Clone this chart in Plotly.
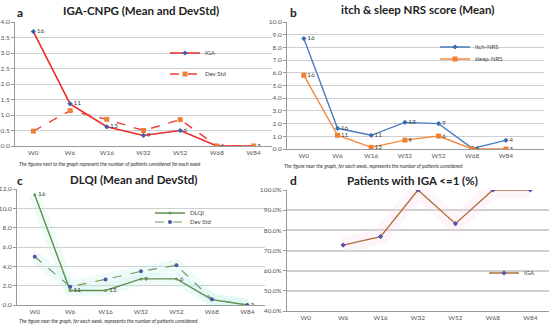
import plotly.graph_objects as go

weeks = ["W0", "W6", "W16", "W32", "W52", "W68", "W84"]

# Panel a: IGA-CNPG
iga_mean = [3.69, 1.36, 0.62, 0.34, 0.50, 0.0, 0.0]
iga_std = [0.48, 1.14, 0.86, 0.50, 0.85, 0.0, 0.0]
iga_n = ["16", "11", "13", "9", "6", "4", "3"]

# Panel b: itch & sleep NRS
itch_nrs = [8.7, 1.63, 1.08, 2.1, 2.0, 0.05, 0.68]
sleep_nrs = [5.8, 1.08, 0.13, 0.7, 1.02, 0.0, 0.0]
itch_n = ["16", "16", "11", "13", "9", "4", "4"]
sleep_n = ["16", "11", "13", "9", "6", "", "3"]

# Panel c: DLQI
dlqi_mean = [11.4, 1.5, 1.5, 2.7, 2.7, 0.55, 0.0]
dlqi_std = [5.0, 1.9, 2.65, 3.48, 4.1, 0.6, 0.0]
dlqi_n = ["16", "11", "13", "9", "6", "", "3"]

# Panel d: patients with IGA <= 1 (%)
d_weeks = ["W6", "W16", "W32", "W52", "W68", "W84"]
iga_le1 = [72.7, 76.9, 100.0, 83.3, 100.0, 100.0]

W, H = 550, 330
def px(x): return x / W
def py(y): return 1 - y / H

FONT = "Lato"
TICKF = dict(family=FONT, size=6.5, color="#555")
LBLF = dict(family=FONT, size=6.5, color="#444")

fig = go.Figure()

def line(x, y, name, ax, lg, lcolor, lw, dash, msym, msize, mcolor):
    fig.add_trace(go.Scatter(x=x, y=y, mode="lines+markers", name=name,
        line=dict(color=lcolor, width=lw, dash=dash),
        marker=dict(symbol=msym, size=msize, color=mcolor),
        xaxis="x" + ax, yaxis="y" + ax, legend=lg))

def labels(x, y, txt, ax):
    fig.add_trace(go.Scatter(x=x, y=y, mode="text", text=["  " + t if t else "" for t in txt],
        textposition="middle right", textfont=LBLF, showlegend=False, hoverinfo="skip",
        xaxis="x" + ax, yaxis="y" + ax))

def glow(x, y, ax, color, w):
    fig.add_trace(go.Scatter(x=x, y=y, mode="lines", showlegend=False, hoverinfo="skip",
        line=dict(color=color, width=w), xaxis="x" + ax, yaxis="y" + ax))

# ---- panel a
line(weeks, iga_mean, "IGA", "", "legend", "#ee2a2a", 1.6, "solid", "diamond", 4, "#3b5fb0")
line(weeks, iga_std, "Dev Std", "", "legend2", "#ee3a3a", 1.4, "dash", "square", 5, "#f08038")
labels(weeks, iga_mean, iga_n, "")

# ---- panel b
line(weeks, itch_nrs, "itch-NRS", "2", "legend3", "#4a7dc0", 1.4, "solid", "diamond", 4, "#3a6bb0")
line(weeks, sleep_nrs, "sleep-NRS", "2", "legend4", "#f28a40", 1.4, "solid", "square", 5, "#f07f30")
labels(weeks, itch_nrs, itch_n, "2")
labels(weeks, sleep_nrs, sleep_n, "2")

# ---- panel c
glow(weeks, dlqi_mean, "3", "rgba(180,238,228,0.22)", 12)
glow(weeks, dlqi_std, "3", "rgba(180,238,228,0.22)", 12)
line(weeks, dlqi_mean, "DLQI", "3", "legend5", "#5f8f4e", 1.4, "solid", "circle", 3, "#6a9a58")
line(weeks, dlqi_std, "Dev Std", "3", "legend6", "#6f9a60", 1.2, "dash", "circle", 4, "#4a55a8")
labels(weeks, dlqi_mean, dlqi_n, "3")

# ---- panel d
glow(d_weeks, iga_le1, "4", "rgba(248,215,232,0.25)", 16)
line(d_weeks, iga_le1, "IGA", "4", "legend7", "#b0703a", 1.4, "solid", "diamond", 4, "#5a4fb8")

common_x = dict(type="category", categoryorder="array", categoryarray=weeks,
                showgrid=False, showline=True, linecolor="#999", linewidth=1,
                ticks="", tickfont=TICKF, fixedrange=True, automargin=False)
common_y = dict(showgrid=True, gridcolor="#cfcfcf", gridwidth=1, showline=True,
                linecolor="#999", linewidth=1, ticks="outside", ticklen=3, tickcolor="#999",
                tickfont=TICKF, zeroline=False, fixedrange=True, automargin=False)

def lgd(xtext, ymid):
    return dict(x=px(xtext - 40), y=py(ymid), xanchor="left", yanchor="middle",
                font=dict(family=FONT, size=6, color="#444"), bgcolor="rgba(0,0,0,0)",
                borderwidth=0, itemwidth=30, tracegroupgap=0)

fig.update_layout(
    width=W, height=H, margin=dict(l=0, r=0, t=0, b=0, pad=0, autoexpand=False),
    paper_bgcolor="white", plot_bgcolor="white",
    font=dict(family=FONT), showlegend=True,
    xaxis=dict(common_x, domain=[px(15), px(272)], range=[-0.5, 6.5], anchor="y"),
    yaxis=dict(common_y, domain=[py(146), py(22)], range=[0, 4], dtick=0.5, tickformat=".1f", anchor="x"),
    xaxis2=dict(common_x, domain=[px(287), px(544)], range=[-0.5, 7.13], anchor="y2"),
    yaxis2=dict(common_y, domain=[py(149), py(22)], range=[0, 10], dtick=1, tickformat=".1f", anchor="x2"),
    xaxis3=dict(common_x, domain=[px(17), px(265)], range=[-0.5, 6.5], anchor="y3"),
    yaxis3=dict(common_y, domain=[py(305), py(189)], range=[0, 12], dtick=2, tickformat=".1f", anchor="x3"),
    xaxis4=dict(common_x, domain=[px(287), px(549)], range=[-0.5, 6.5], anchor="y4"),
    yaxis4=dict(common_y, domain=[py(311), py(190)], range=[40, 100], dtick=10, tickformat=".1f",
                ticksuffix="%", anchor="x4", gridwidth=1.5),
    legend=lgd(205, 53),
    legend2=lgd(205, 74),
    legend3=lgd(475, 47),
    legend4=lgd(475, 59),
    legend5=lgd(190, 213),
    legend6=lgd(190, 222),
    legend7=lgd(524, 273),
)

titles = [
    ("a", 20, 12, "IGA-CNPG (Mean and DevStd)", 141, 11),
    ("b", 293, 12, "itch & sleep NRS score (Mean)", 417, 10),
    ("c", 20, 180, "DLQI (Mean and DevStd)", 133, 179),
    ("d", 293, 180, "Patients with IGA <=1 (%)", 412, 180),
]
for letter, lx, ly, t, tx, ty in titles:
    fig.add_annotation(text=f"<b>{letter}</b>", x=px(lx), y=py(ly), xref="paper", yref="paper",
                       showarrow=False, xanchor="center", yanchor="middle",
                       font=dict(family=FONT, size=12, color="#222"))
    fig.add_annotation(text=f"<b>{t}</b>", x=px(tx), y=py(ty), xref="paper", yref="paper",
                       showarrow=False, xanchor="center", yanchor="middle",
                       font=dict(family=FONT, size=11.5, color="#222"))

notes = [
    ("The figures next to the graph represent the number of patients considered for each week", 17, 164),
    ("The figure near the graph, for each week, represents the number of patients considered", 282, 166),
    ("The figure near the graph, for each week, represents the number of patients considered", 17, 321),
]
for t, x, y in notes:
    fig.add_annotation(text=f"<i>{t}</i>", x=px(x), y=py(y), xref="paper", yref="paper",
                       showarrow=False, xanchor="left", yanchor="middle",
                       font=dict(family=FONT, size=5, color="#333"))

fig.write_html("out.html", config={"displayModeBar": False, "displaylogo": False},
               post_script="document.body.style.margin='0px';document.body.style.padding='0px';")
